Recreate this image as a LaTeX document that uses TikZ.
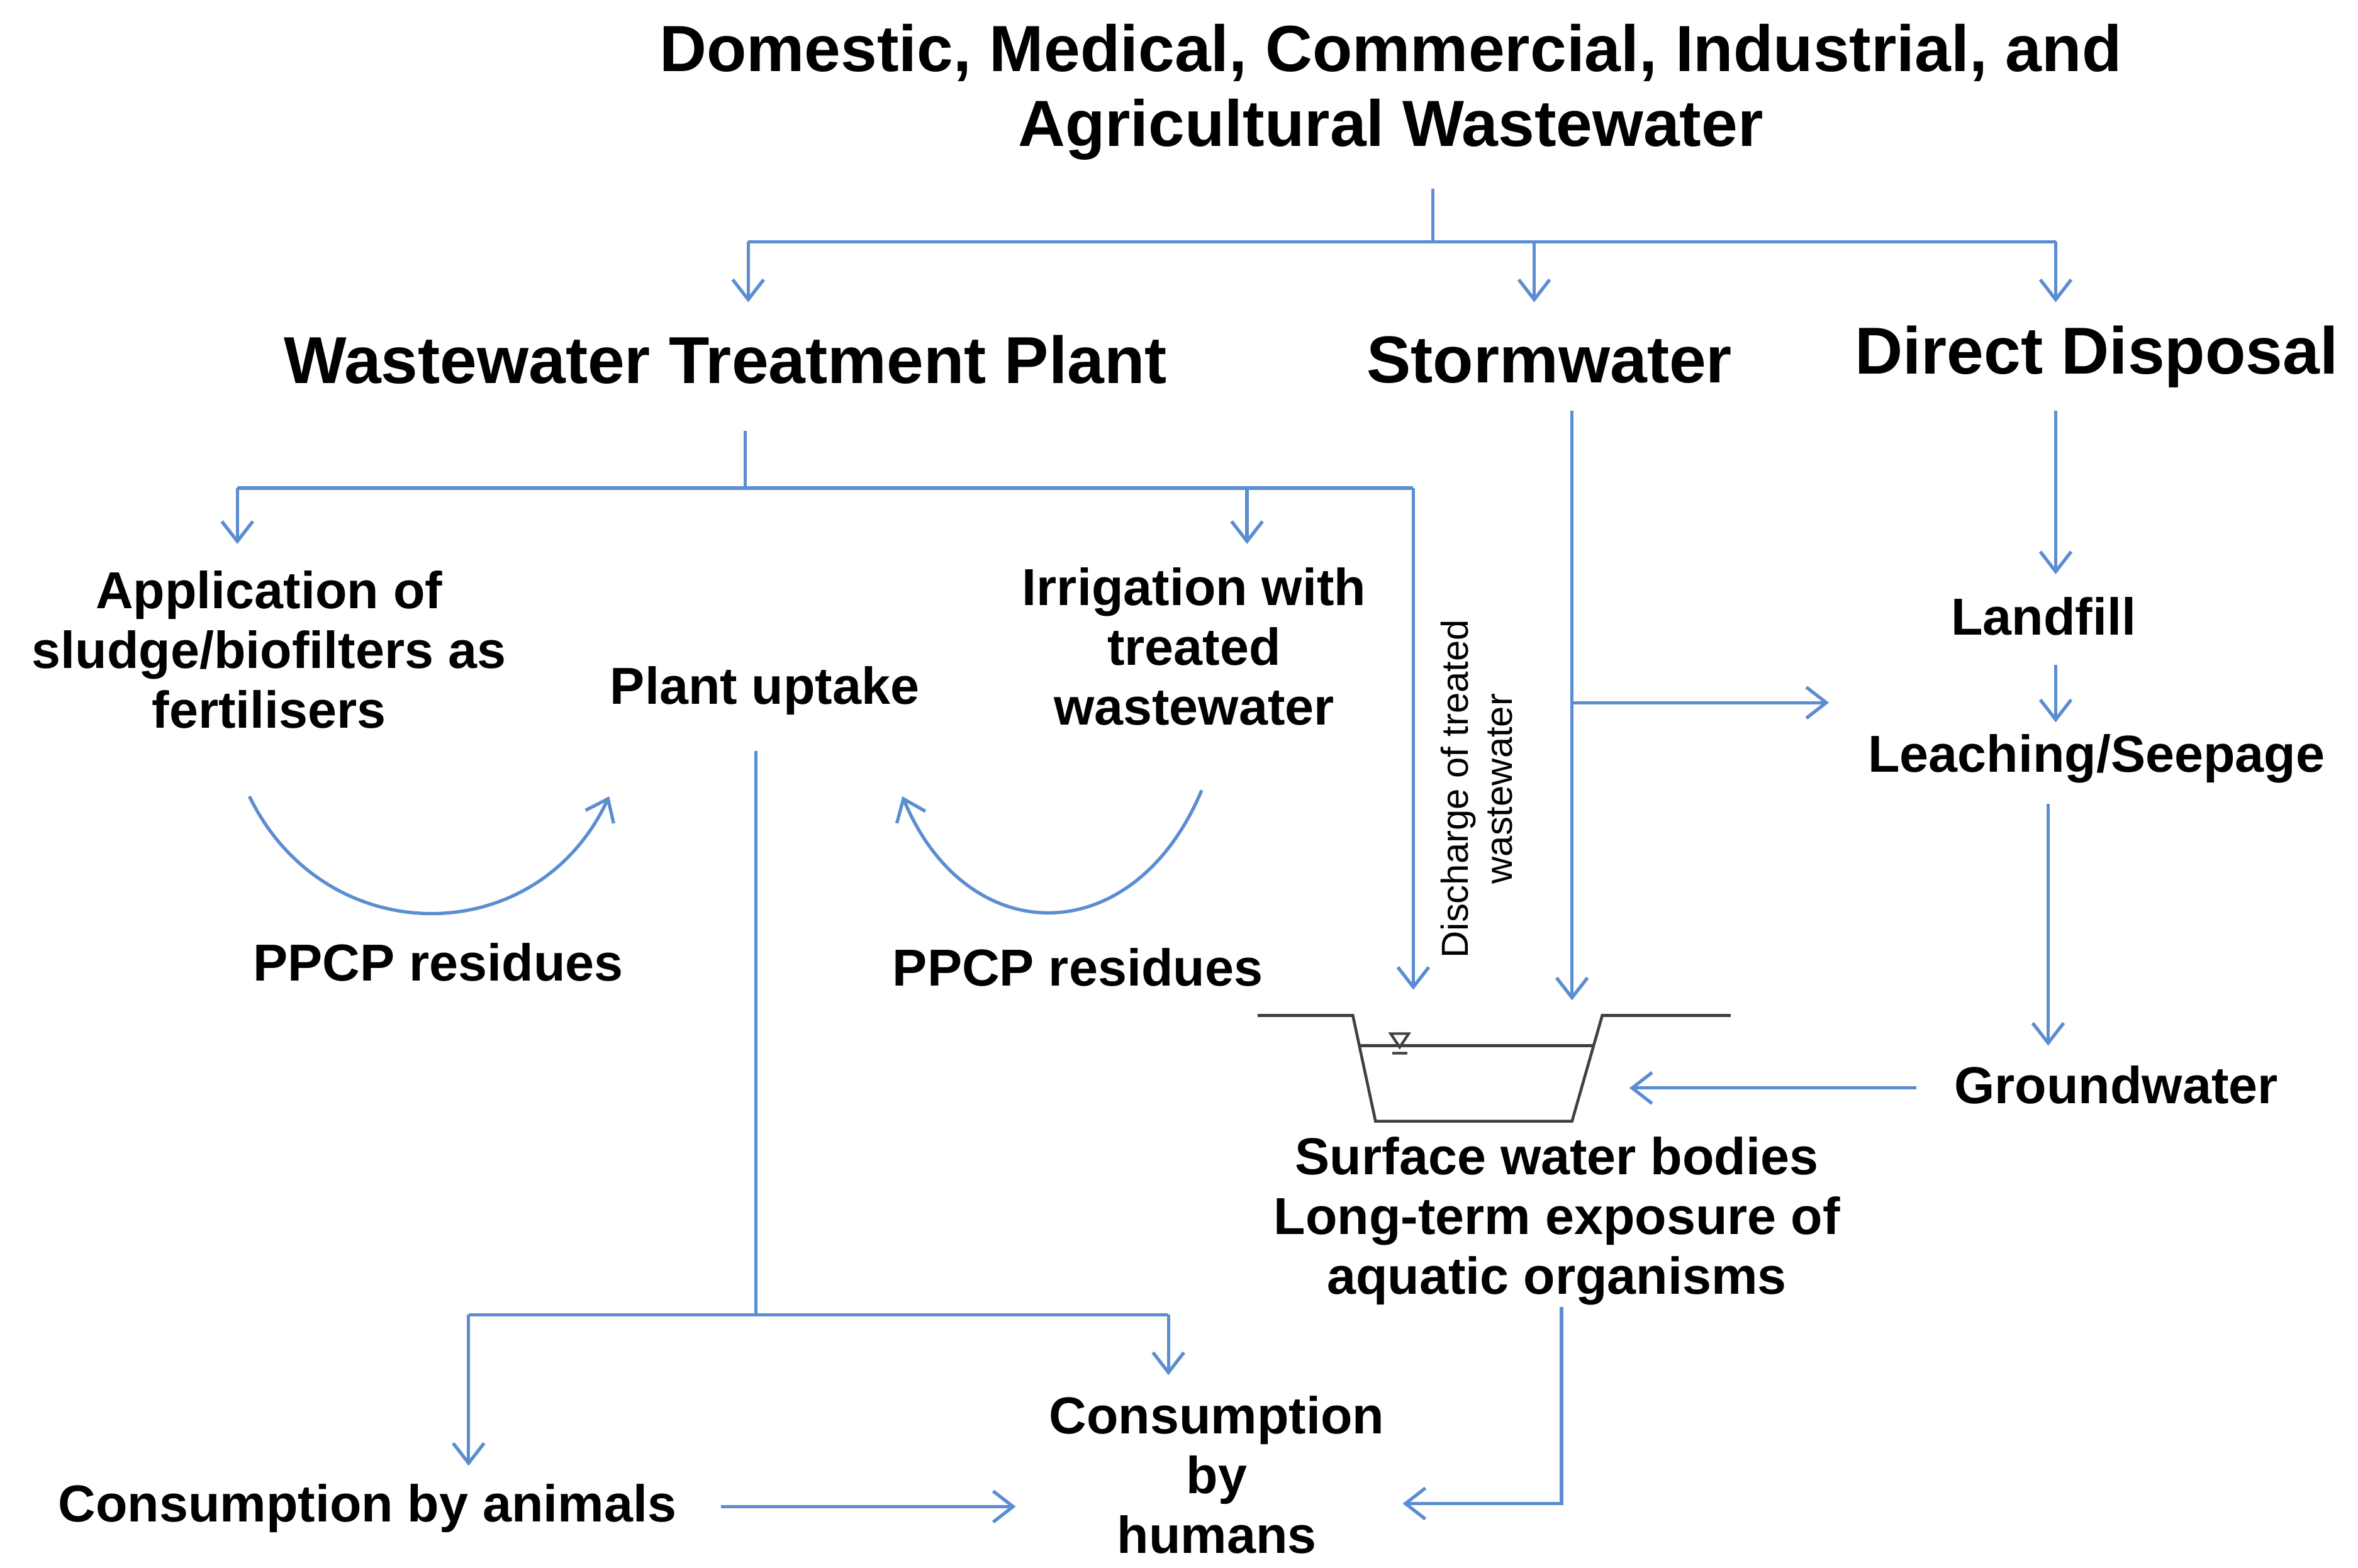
\documentclass[tikz,border=0pt]{standalone}
\usepackage{fontspec}
\setmainfont{Liberation Sans}
\usetikzlibrary{arrows.meta}
\definecolor{ln}{RGB}{91,141,209}
\begin{document}
\begin{tikzpicture}[x=0.024cm,y=-0.024cm,
  l/.style={draw=ln,line width=1.5pt},
  a/.style={l,-{Straight Barb[length=9pt,width=14pt,line width=1.5pt]}},
  t/.style={font=\bfseries\fontsize{23.5}{27}\selectfont,align=center,inner sep=0pt},
  h/.style={font=\bfseries\fontsize{30}{33}\selectfont,align=center,inner sep=0pt}]
\useasboundingbox (0,0) rectangle (1560,1037.6);
\node[h,font=\bfseries\fontsize{29.5}{34}\selectfont] (title) at (920,61) {Domestic, Medical, Commercial, Industrial, and\\Agricultural Wastewater};
\node[h] (wtp) at (480,238) {Wastewater Treatment Plant};
\node[h] (sw) at (1025,238) {Stormwater};
\node[h] (dd) at (1387,236) {Direct Disposal};
\coordinate (c1) at (948,125); \coordinate (c2) at (948,160);
\coordinate (c3) at (495,160); \coordinate (c4) at (1360,160);
\coordinate (c5) at (1015,160);
\draw[l] (c1)--(c2) (c3)--(c4);
\draw[a] (c3)--(495,200); \draw[a] (c5)--(1015,200); \draw[a] (c4)--(1360,200);
% WTP branches
\coordinate (w1) at (493,285); \coordinate (w2) at (493,323);
\coordinate (wl) at (157,323); \coordinate (wr) at (935,323);
\draw[l] (w1)--(w2) (wl)--(wr);
\draw[a] (wl)--(157,360); \draw[a] (825,323)--(825,360); \draw[a] (wr)--(935,655);
\node[t] (app) at (178,430) {Application of\\sludge/biofilters as\\fertilisers};
\node[t] (pu) at (506,457) {Plant uptake};
\node[t] (irr) at (790,428) {Irrigation with\\treated\\wastewater};
\node[t] (p1) at (290,637) {PPCP residues};
\node[t] (p2) at (713,640) {PPCP residues};
\draw[a] (165,527) .. controls (215,630) and (355,630) .. (403,527);
\draw[a] (795,523) .. controls (750,630) and (640,630) .. (597,527);
\node[rotate=90,align=center,font=\fontsize{17}{20}\selectfont,inner sep=0pt] (dis) at (977,522) {Discharge of treated\\wastewater};
% Stormwater
\coordinate (s1) at (1040,272); \coordinate (s2) at (1040,465);
\draw[a] (s1)--(1040,662);
\draw[a] (s2)--(1210,465);
% Direct disposal
\node[t] (lf) at (1352,408) {Landfill};
\node[t] (ls) at (1387,502) {Leaching/Seepage};
\node[t] (gw) at (1400,718) {Groundwater};
\draw[a] (1360,272)--(1360,380);
\draw[a] (1360,440)--(1360,478);
\draw[a] (1355,532)--(1355,692);
\draw[a] (1268,720)--(1078,720);
% trench
\draw[draw=black!75,line width=1.3pt] (832,672)--(895,672)--(910,742)--(1040,742)--(1060,672)--(1145,672);
\draw[draw=black!75,line width=1.3pt] (900,692)--(1055,692);
\draw[draw=black!75,line width=1.2pt] (920,684)--(932,684)--(926,693)--cycle (921,697)--(931,697);
\node[t] (surf) at (1030,808) {Surface water bodies\\Long-term exposure of\\aquatic organisms};
% plant uptake
\coordinate (u1) at (500,497); \coordinate (u2) at (500,870);
\coordinate (ul) at (310,870); \coordinate (ur) at (773,870);
\draw[l] (u1)--(u2) (ul)--(ur);
\draw[a] (ul)--(310,970); \draw[a] (ur)--(773,910);
\node[t] (ca) at (243,998) {Consumption by animals};
\node[t] (ch) at (805,976) {Consumption\\by\\humans};
\draw[a] (477,997)--(672,997);
\draw[a] (1033,865)--(1033,995)--(928,995);
\end{tikzpicture}
\end{document}
